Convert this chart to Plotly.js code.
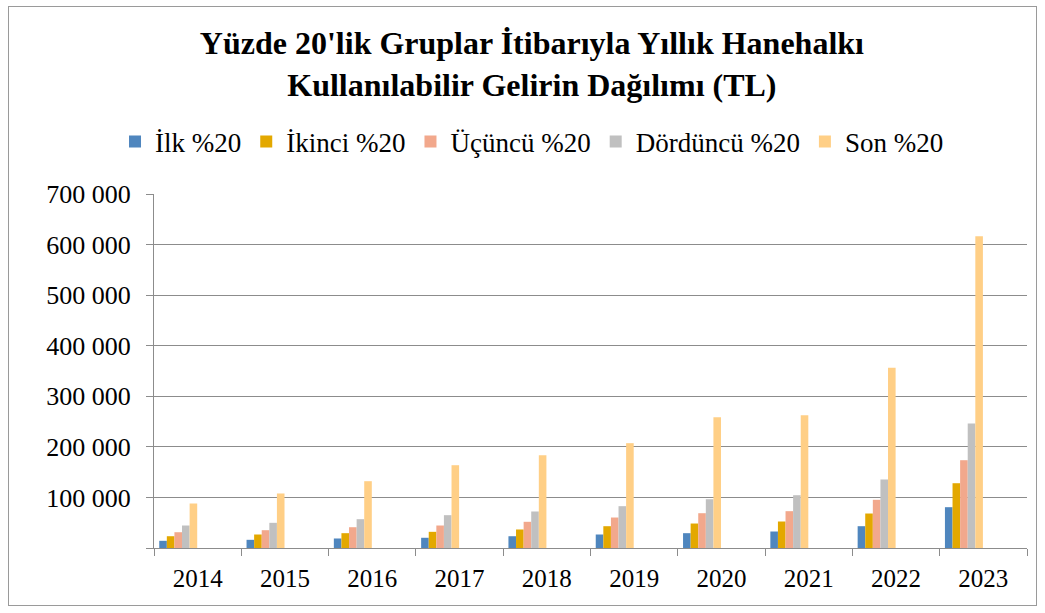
<!DOCTYPE html>
<html>
<head>
<meta charset="utf-8">
<script src="https://cdn.plot.ly/plotly-3.0.1.min.js"></script>
<style>
body{margin:0;padding:0;background:#fff;}
#frame{position:absolute;left:8px;top:6px;width:1027px;height:598px;border:1px solid #9a9a9a;pointer-events:none;z-index:5;}
#chart{position:absolute;left:0;top:0;width:1045px;height:613px;}
</style>
</head>
<body>
<div id="chart"></div>
<div id="frame"></div>
<script>
const years = ["2014","2015","2016","2017","2018","2019","2020","2021","2022","2023"];
const seriesNames = ["İlk %20","İkinci %20","Üçüncü %20","Dördüncü %20","Son %20"];
const ilk      = [14200, 16200, 18800, 20200, 23300, 26700, 29300, 32600, 43100, 80700];
const ikinci   = [23300, 26700, 29300, 32000, 36600, 43100, 48400, 52400, 68200, 128100];
const ucuncu   = [31200, 35200, 41100, 44500, 51800, 60300, 68800, 72800, 95300, 173600];
const dorduncu = [44500, 49800, 57000, 64900, 72200, 82700, 96500, 104400, 135500, 246200];
const son      = [88000, 107800, 132100, 163700, 183500, 207300, 258700, 262600, 356300, 616600];
const yTickVals = [0, 100000, 200000, 300000, 400000, 500000, 600000, 700000];
const yTickText = ["", "100 000", "200 000", "300 000", "400 000", "500 000", "600 000", "700 000"];

const FAM = "Liberation Serif";
const values = [ilk, ikinci, ucuncu, dorduncu, son];
const colors = ["#4f86be", "#e3a800", "#f2a88c", "#c0c0c0", "#ffcf86"];
const barW = 0.087;
const traces = values.map((v, i) => ({
  type: "bar",
  name: seriesNames[i],
  x: years,
  y: v,
  width: barW,
  offset: -0.44 + i * barW,
  marker: {color: colors[i], line: {width: 0}},
  hoverinfo: "x+y+name"
}));

const layout = {
  width: 1045, height: 613,
  margin: {l: 154, r: 18, t: 194, b: 65},
  paper_bgcolor: "#fff", plot_bgcolor: "#fff",
  font: {family: FAM, color: "#000", size: 24},
  title: {
    text: "<b>Yüzde 20'lik Gruplar İtibarıyla Yıllık Hanehalkı<br>Kullanılabilir Gelirin Dağılımı (TL)</b>",
    font: {family: FAM, size: 32, color: "#000"},
    x: 0.509, xanchor: "center", xref: "container",
    y: 1 - 54/613, yanchor: "middle", yref: "container"
  },
  showlegend: true,
  legend: {
    orientation: "h", x: 0.433, xanchor: "center", y: 1.147, yanchor: "middle",
    font: {family: FAM, size: 27, color: "#000"}, itemwidth: 30, traceorder: "normal", bgcolor: "rgba(0,0,0,0)"
  },
  xaxis: {
    type: "category",
    range: [-0.5, 9.5],
    showline: true, linecolor: "#8c8c8c", linewidth: 1,
    ticks: "outside", tickson: "boundaries", ticklen: 7, tickcolor: "#8c8c8c",
    showgrid: false, zeroline: false,
    ticklabelstandoff: 8,
    tickfont: {family: FAM, size: 25, color: "#000"}
  },
  yaxis: {
    range: [0, 700000],
    tickvals: yTickVals, ticktext: yTickText,
    showline: true, linecolor: "#8c8c8c", linewidth: 1,
    ticks: "outside", ticklen: 7, tickcolor: "#8c8c8c",
    showgrid: true, gridcolor: "#8c8c8c", gridwidth: 1,
    zeroline: false,
    ticklabelstandoff: 10,
    tickfont: {family: FAM, size: 26, color: "#000"}
  },
  bargap: 0.12
};

Plotly.newPlot("chart", traces, layout, {displayModeBar: false, staticPlot: true});
</script>
</body>
</html>
